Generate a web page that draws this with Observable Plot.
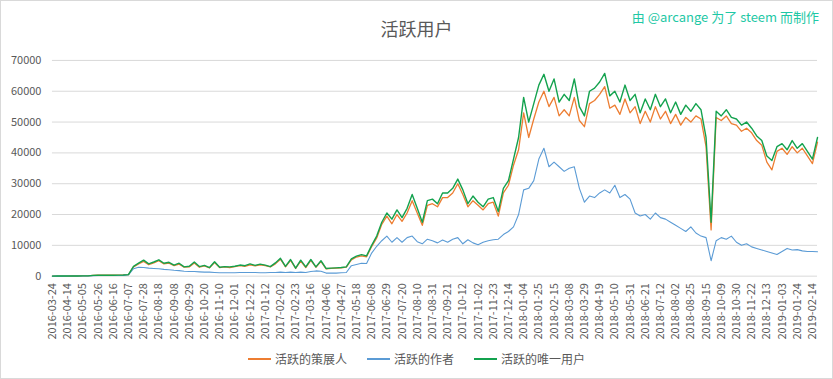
<!DOCTYPE html>
<html><head><meta charset="utf-8">
<script src="https://cdn.jsdelivr.net/npm/d3@7"></script>
<script src="https://cdn.jsdelivr.net/npm/@observablehq/plot@0.6"></script>
<style>
body{margin:0;background:#fff;}
#wrap{position:relative;width:833px;height:379px;border:1px solid #d9d9d9;box-sizing:border-box;font-family:"Noto Sans CJK SC",sans-serif;overflow:hidden;background:#fff;}
#title{position:absolute;left:0;width:831px;top:15px;text-align:center;font-size:18px;color:#595959;line-height:24px;}
#credit{position:absolute;right:13px;top:6px;font-size:13px;color:#1ec8a5;line-height:20px;}
#chart{position:absolute;left:-1px;top:-1px;}
#legend{position:absolute;top:349px;left:0;width:831px;display:flex;justify-content:center;gap:20px;font-size:12px;color:#595959;line-height:18px;}
.item{display:flex;align-items:center;}
.sw{width:23px;height:2px;margin-right:4px;}
</style></head>
<body>
<div id="wrap">
  <div id="chart"></div>
  <div id="title"></div>
  <div id="credit"></div>
  <div id="legend"></div>
</div>
<script>
const title = "活跃用户";
const credit = "由 @arcange 为了 steem 而制作";
const seriesNames = ["活跃的策展人", "活跃的作者", "活跃的唯一用户"];
const seriesColors = ["#ED7D31", "#5B9BD5", "#13A24E"];

const tickLabels = ["2016-03-24","2016-04-14","2016-05-05","2016-05-26","2016-06-16","2016-07-07","2016-07-28","2016-08-18","2016-09-08","2016-09-29","2016-10-20","2016-11-10","2016-12-01","2016-12-22","2017-01-12","2017-02-02","2017-02-23","2017-03-16","2017-04-06","2017-04-27","2017-05-18","2017-06-08","2017-06-29","2017-07-20","2017-08-10","2017-08-31","2017-09-21","2017-10-12","2017-11-02","2017-11-23","2017-12-14","2018-01-04","2018-01-25","2018-02-15","2018-03-08","2018-03-29","2018-04-19","2018-05-10","2018-05-31","2018-06-21","2018-07-12","2018-08-02","2018-08-25","2018-09-15","2018-10-09","2018-10-30","2018-11-22","2018-12-13","2019-01-03","2019-01-24","2019-02-14"];

// one value every 7 day-points (3 per tick interval)
const curators = [
20,30,30, 40,50,60, 80,100,240, 290,290,310, 310,340,390,
480,3000,4000, 4800,3700,4300, 5000,4000,4200, 3400,3900,2900, 3000,4300,2900,
3300,2700,4400, 2800,3000,2800, 3100,3400,3200, 3700,3300,3700, 3400,3000,4000,
5500,3000,5100, 2500,4900,2800, 5100,2900,4800, 2400,2500,2600, 2700,2900,5300,
6200,6600,6300, 9600,12400,16800, 19500,17000,20000, 17800,20500,24500, 20500,16500,23000,
23500,22500,25500, 25500,27000,30000, 26500,22500,24500, 23000,21500,23500, 24000,19500,27000,
29500,36000,41000, 53000,45000,51000, 56500,60000,55000, 58000,52000,54000, 52000,58000,50500,
48500,56000,57000, 59000,61500,54500, 55500,52500,57500, 53000,55000,49500, 53500,50000,55000,
51000,53500,49500, 52500,49000,51500, 50000,52000,51000, 42000,15000,51500, 50500,52000,49500,
49000,47000,48000, 46500,44000,42500, 37000,34500,40500, 41500,39500,42000, 40000,41500,39000,
36500,43500];
const authors = [
10,20,20, 30,30,40, 50,60,150, 200,200,210, 210,230,260,
450,2400,2900, 2800,2600,2500, 2400,2200,2100, 1900,1800,1600, 1500,1500,1400,
1300,1300,1200, 1100,1100,1100, 1100,1200,1200, 1200,1200,1100, 1100,1200,1200,
1300,1200,1300, 1200,1300,1200, 1500,1700,1600, 1000,1000,1000, 1100,1200,3400,
3800,4200,4100, 7500,9700,11500, 13000,11000,12500, 11000,12500,13000, 11200,10500,12000,
11500,10800,11700, 11000,12000,12500, 10500,11800,10800, 10200,11000,11500, 11800,12000,13500,
14500,16000,20000, 28000,28500,31000, 38000,41500,35500, 37000,35500,34000, 35000,35500,28500,
24000,26000,25500, 27000,28000,27000, 29500,25500,26500, 25000,20500,19500, 20000,18500,20500,
19000,18500,17500, 16500,15500,14500, 16000,14000,13000, 12500,5000,11500, 12500,12000,13000,
11000,10000,10500, 9500,9000,8500, 8000,7500,7000, 8000,9000,8500, 8600,8200,8000,
8000,7900];
const uniques = [
20,30,30, 40,50,60, 80,100,250, 300,300,320, 320,350,400,
500,3200,4200, 5200,4000,4600, 5300,4200,4500, 3600,4200,3000, 3200,4600,3100,
3500,2800,4700, 2900,3100,3000, 3200,3600,3400, 4000,3500,3900, 3600,3100,4300,
5800,3200,5400, 2600,5200,3000, 5400,3000,5000, 2500,2600,2700, 2800,3000,5600,
6500,7000,6600, 10000,13000,17500, 20500,18500,21500, 19000,22000,26500, 22000,17500,24500,
25000,23500,27000, 27000,28500,31500, 28000,23500,26000, 24000,22500,25000, 25500,21000,28500,
31000,38000,45000, 58000,50000,56000, 62000,65500,60000, 64000,56500,59000, 57000,64000,55000,
52000,60000,61000, 63000,65800,58500, 60000,56500,62000, 57000,59000,53000, 57500,54000,59000,
55000,57500,53000, 56500,52500,55500, 53500,56000,54000, 45000,17500,53500, 52000,54000,51500,
51000,49000,50000, 48000,45500,44000, 39000,37500,42000, 43000,41000,44000, 41500,43000,40500,
38000,45000];

const step = 7, perTick = 21;
const rows = curators.map((c, j) => ({i: j * step, c, a: authors[j], u: uniques[j]}));
const lastIndex = (curators.length - 1) * step;
const tickIdx = tickLabels.map((_, k) => k * perTick);

const font = '"Noto Sans CJK SC", sans-serif';
const chart = Plot.plot({
  width: 833, height: 345,
  marginLeft: 52, marginRight: 15, marginTop: 60, marginBottom: 69,
  style: {fontFamily: font, fontSize: "11px", color: "#595959", background: "transparent"},
  x: {domain: [0, lastIndex], ticks: tickIdx, tickFormat: i => tickLabels[Math.round(i / perTick)], tickRotate: -90, tickSize: 0, tickPadding: 7, label: null},
  y: {domain: [0, 70000], ticks: d3.range(0, 70001, 10000), tickFormat: d3.format("d"), tickSize: 0, tickPadding: 11, label: null},
  marks: [
    Plot.gridY(d3.range(0, 70001, 10000), {stroke: "#d9d9d9", strokeOpacity: 1}),
    Plot.line(rows, {x: "i", y: "c", stroke: seriesColors[0], strokeWidth: 1.3}),
    Plot.line(rows, {x: "i", y: "a", stroke: seriesColors[1], strokeWidth: 1.1}),
    Plot.line(rows, {x: "i", y: "u", stroke: seriesColors[2], strokeWidth: 1.4})
  ]
});
document.getElementById("chart").appendChild(chart);
document.getElementById("title").textContent = title;
document.getElementById("credit").textContent = credit;
const lg = document.getElementById("legend");
seriesNames.forEach((n, k) => {
  const it = document.createElement("div"); it.className = "item";
  const sw = document.createElement("div"); sw.className = "sw"; sw.style.background = seriesColors[k];
  const t = document.createElement("span"); t.textContent = n;
  it.appendChild(sw); it.appendChild(t); lg.appendChild(it);
});
</script>
</body></html>
